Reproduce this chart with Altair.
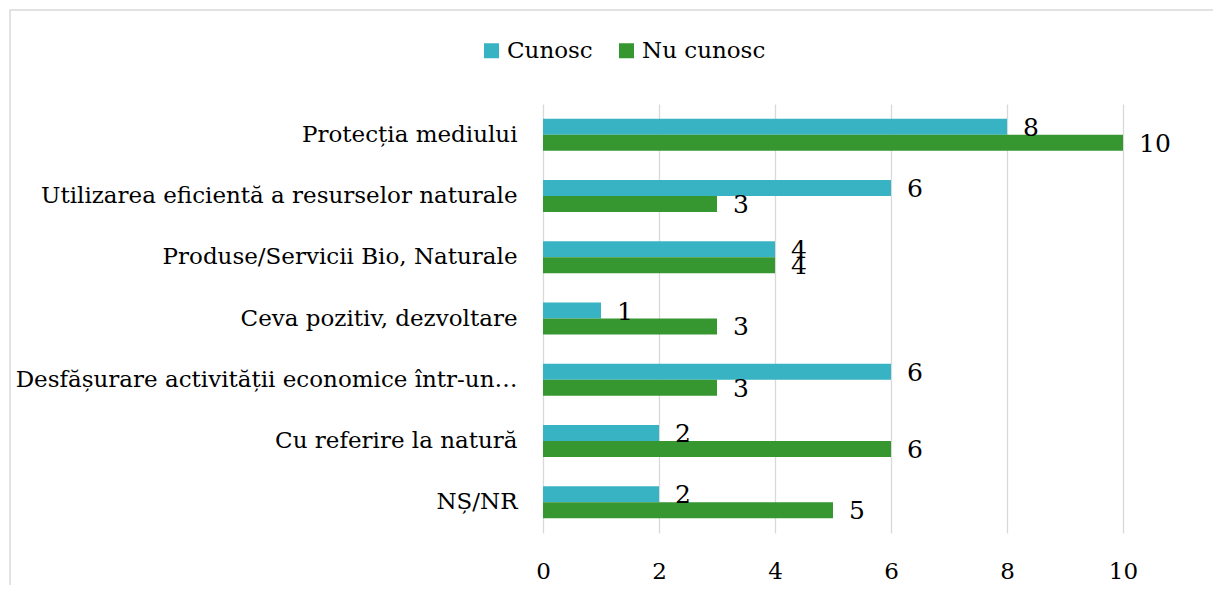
import altair as alt
import pandas as pd

categories = [
    "Protecția mediului",
    "Utilizarea eficientă a resurselor naturale",
    "Produse/Servicii Bio, Naturale",
    "Ceva pozitiv, dezvoltare",
    "Desfășurare activității economice într-un…",
    "Cu referire la natură",
    "NȘ/NR",
]
series = ["Cunosc", "Nu cunosc"]
cunosc = [8, 6, 4, 1, 6, 2, 2]
nu_cunosc = [10, 3, 4, 3, 3, 6, 5]
x_ticks = [0, 2, 4, 6, 8, 10]
colors = ["#38B3C4", "#369630"]

rows = []
for c, a, b in zip(categories, cunosc, nu_cunosc):
    rows.append({"cat": c, "series": series[0], "value": a})
    rows.append({"cat": c, "series": series[1], "value": b})
df = pd.DataFrame(rows)

FONT = "DejaVu Serif"

y_enc = alt.Y(
    "cat:N",
    sort=categories,
    scale=alt.Scale(paddingInner=0.478, paddingOuter=0.239),
    axis=alt.Axis(
        title=None, grid=False, domain=False, ticks=False, tickSize=0,
        labelPadding=26, labelLimit=700, labelFont=FONT, labelFontSize=23,
        labelColor="#000000",
    ),
)
x_enc = alt.X(
    "value:Q",
    scale=alt.Scale(domain=[0, 10], nice=False),
    axis=alt.Axis(
        title=None, values=x_ticks, format="d", grid=True, gridColor="#D9D9D9",
        gridWidth=1.3, domain=False, ticks=False, tickSize=0, labelPadding=27,
        labelFlush=False, labelFont=FONT, labelFontSize=23, labelColor="#000000",
    ),
)
yoff = alt.YOffset("series:N", sort=series,
                   scale=alt.Scale(domain=series, paddingInner=0, paddingOuter=0))

base = alt.Chart(df)

bars = base.mark_bar(cornerRadius=0).encode(
    x=x_enc,
    y=y_enc,
    yOffset=yoff,
    color=alt.Color(
        "series:N",
        scale=alt.Scale(domain=series, range=colors),
        legend=alt.Legend(
            title=None, orient="none", legendX=-63, legendY=-65,
            direction="horizontal", symbolType="square", symbolSize=225,
            symbolStrokeWidth=0, labelFont=FONT, labelFontSize=23,
            labelColor="#000000", columnPadding=22, labelOffset=4, padding=0,
        ),
    ),
)

labels = base.mark_text(
    align="left", baseline="middle", dx=16, dy=1, font=FONT, fontSize=25,
    color="#000000",
).encode(
    x="value:Q",
    y=alt.Y("cat:N", sort=categories),
    yOffset=alt.YOffset("series:N", sort=series),
    text="value:Q",
)

frame = alt.Chart(pd.DataFrame({"f": [0]})).mark_rect(
    fill="transparent", stroke="#D9D9D9", strokeWidth=1.5
).encode(
    x=alt.value(-533), x2=alt.value(720), y=alt.value(-94), y2=alt.value(620)
)

chart = alt.layer(bars, labels, frame).properties(
    width=580, height=429,
    padding={"left": 535, "top": 96, "right": 90, "bottom": 52},
    autosize="none",
    background="#FFFFFF",
).configure_view(stroke="transparent", strokeWidth=0)

chart.save("out.html", embed_options={"renderer": "svg", "actions": False})
